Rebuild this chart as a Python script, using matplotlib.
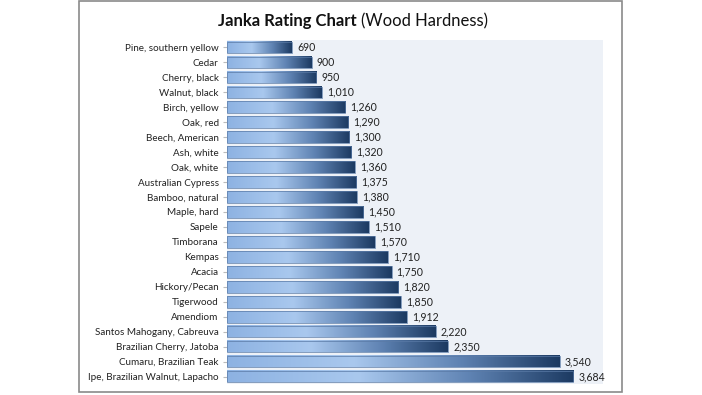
import numpy as np
import matplotlib
matplotlib.use("Agg")
import matplotlib.pyplot as plt
from matplotlib.colors import LinearSegmentedColormap
from matplotlib.patches import Rectangle

species = [
    "Pine, southern yellow", "Cedar", "Cherry, black", "Walnut, black",
    "Birch, yellow", "Oak, red", "Beech, American", "Ash, white",
    "Oak, white", "Australian Cypress", "Bamboo, natural", "Maple, hard",
    "Sapele", "Timborana", "Kempas", "Acacia", "Hickory/Pecan", "Tigerwood",
    "Amendiom", "Santos Mahogany, Cabreuva", "Brazilian Cherry, Jatoba",
    "Cumaru, Brazilian Teak", "Ipe, Brazilian Walnut, Lapacho",
]
hardness = [690, 900, 950, 1010, 1260, 1290, 1300, 1320, 1360, 1375, 1380,
            1450, 1510, 1570, 1710, 1750, 1820, 1850, 1912, 2220, 2350,
            3540, 3684]

plt.rcParams["font.family"] = ["Lato", "DejaVu Sans"]

grad = LinearSegmentedColormap.from_list(
    "bar", [(0.0, "#8db2e2"), (0.38, "#a9c8ee"), (0.7, "#5f83b3"), (1.0, "#1c3a62")])

fig = plt.figure(figsize=(7.02, 3.95), dpi=100)
# outer frame
fig.patches.append(Rectangle((79 / 702, 3 / 395), (622 - 79) / 702, (394 - 3) / 395,
                             transform=fig.transFigure, fill=False,
                             edgecolor="#8a8a8a", lw=1.2))

ax = fig.add_axes([227 / 702, 11 / 395, (603 - 227) / 702, (355 - 11) / 395])
ax.set_facecolor("#edf1f7")
n = len(species)

g = np.linspace(0, 1, 256).reshape(1, -1)
h = 0.78
for i, v in enumerate(hardness):
    ax.imshow(g, cmap=grad, aspect="auto", extent=(0, v, i + h / 2, i - h / 2),
              interpolation="bilinear", zorder=2)
    ax.add_patch(Rectangle((0, i - h / 2), v, h, fill=False, edgecolor="#5a7aa6",
                           lw=0.5, zorder=3))
    ax.text(v + 55, i, f"{v:,}", va="center", ha="left", fontsize=7.6, color="#222222")
ax.set_xlim(0, 4000)
ax.set_ylim(n - 0.5, -0.5)

ax.set_yticks(range(n))
ax.set_yticklabels(species, fontsize=7.1, color="#222222")
ax.set_xticks([])
ax.tick_params(axis="y", length=3, color="#bbbbbb", pad=3)
for s in ax.spines.values():
    s.set_visible(False)

fig.text(357 / 702, 1 - 21 / 395, "Janka Rating Chart", ha="right", va="center",
         fontsize=12, fontweight="bold", color="#111111")
fig.text(361 / 702, 1 - 21 / 395, "(Wood Hardness)", ha="left", va="center",
         fontsize=12, color="#111111")

fig.savefig("out.png", dpi=100)
